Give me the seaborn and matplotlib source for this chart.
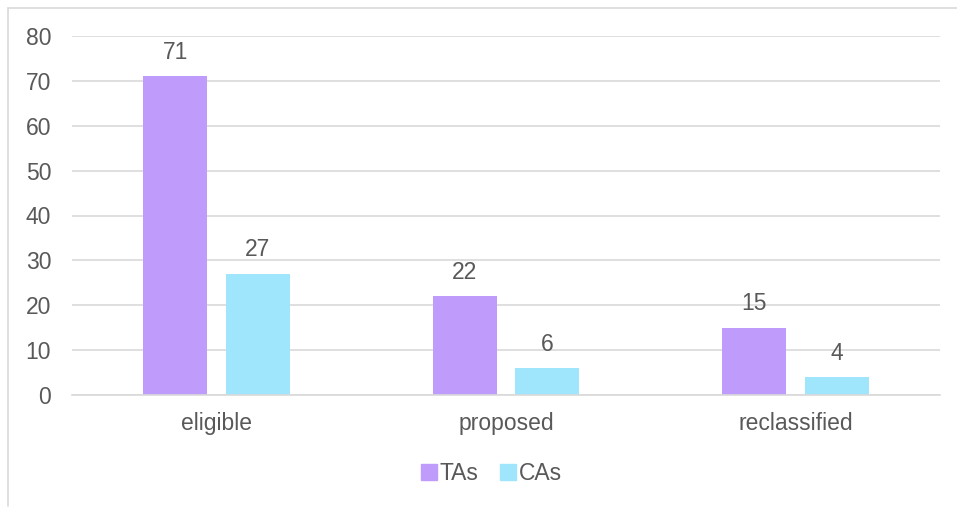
import matplotlib
matplotlib.use("Agg")
import matplotlib.pyplot as plt
import seaborn as sns
import pandas as pd
from matplotlib.lines import Line2D

categories = ["eligible", "proposed", "reclassified"]
series_names = ["TAs", "CAs"]
tas_values = [71, 22, 15]
cas_values = [27, 6, 4]
y_ticks = [0, 10, 20, 30, 40, 50, 60, 70, 80]

colors = {"TAs": "#BF9BFC", "CAs": "#9FE5FB"}
text_color = "#595959"
grid_color = "#D9D9D9"

df = pd.DataFrame({
    "category": categories * 2,
    "series": ["TAs"] * 3 + ["CAs"] * 3,
    "value": tas_values + cas_values,
})

sns.set_theme(style="white")
plt.rcParams["font.family"] = ["Liberation Sans", "DejaVu Sans"]

fs = 16.5
fig = plt.figure(figsize=(9.57, 5.08), dpi=100)
W, H = 957, 508
ax = fig.add_axes([72 / W, 1 - 395 / H, (940 - 72) / W, (395 - 36) / H])

sns.barplot(data=df, x="category", y="value", hue="series", order=categories,
            hue_order=series_names, palette=colors, width=0.57, gap=0.225,
            saturation=1, ax=ax, legend=False, errorbar=None, linewidth=0)

ax.set_ylim(0, 80)
ax.set_yticks(y_ticks)
ax.set_xlim(-0.5, 2.5)
ax.yaxis.grid(True, color=grid_color, linewidth=1.2)
ax.set_axisbelow(True)
for s in ["top", "right", "left"]:
    ax.spines[s].set_visible(False)
ax.spines["bottom"].set_color(grid_color)
ax.spines["bottom"].set_linewidth(1.2)
ax.tick_params(axis="both", length=0, labelsize=fs, labelcolor=text_color)
ax.tick_params(axis="y", pad=15)
ax.tick_params(axis="x", pad=12)
ax.set_xlabel("")
ax.set_ylabel("")

for cont in ax.containers:
    ax.bar_label(cont, padding=9, fontsize=fs, color=text_color)

handles = [Line2D([0], [0], marker="s", linestyle="none", markersize=12,
                  markerfacecolor=colors[n], markeredgecolor=colors[n]) for n in series_names]
fig.legend(handles, series_names, loc="center", bbox_to_anchor=(491 / W, 1 - 474 / H),
           ncol=2, frameon=False, fontsize=fs, labelcolor=text_color,
           handletextpad=0.05, columnspacing=0.9, handlelength=0.8)

# outer chart border (left and top visible)
fig.add_artist(Line2D([8 / W, 8 / W], [1 - 506 / H, 1 - 8 / H], color=grid_color,
                      linewidth=1.2, transform=fig.transFigure))
fig.add_artist(Line2D([8 / W, 1.0], [1 - 8 / H, 1 - 8 / H], color=grid_color,
                      linewidth=1.2, transform=fig.transFigure))

fig.savefig("out.png", dpi=100)
